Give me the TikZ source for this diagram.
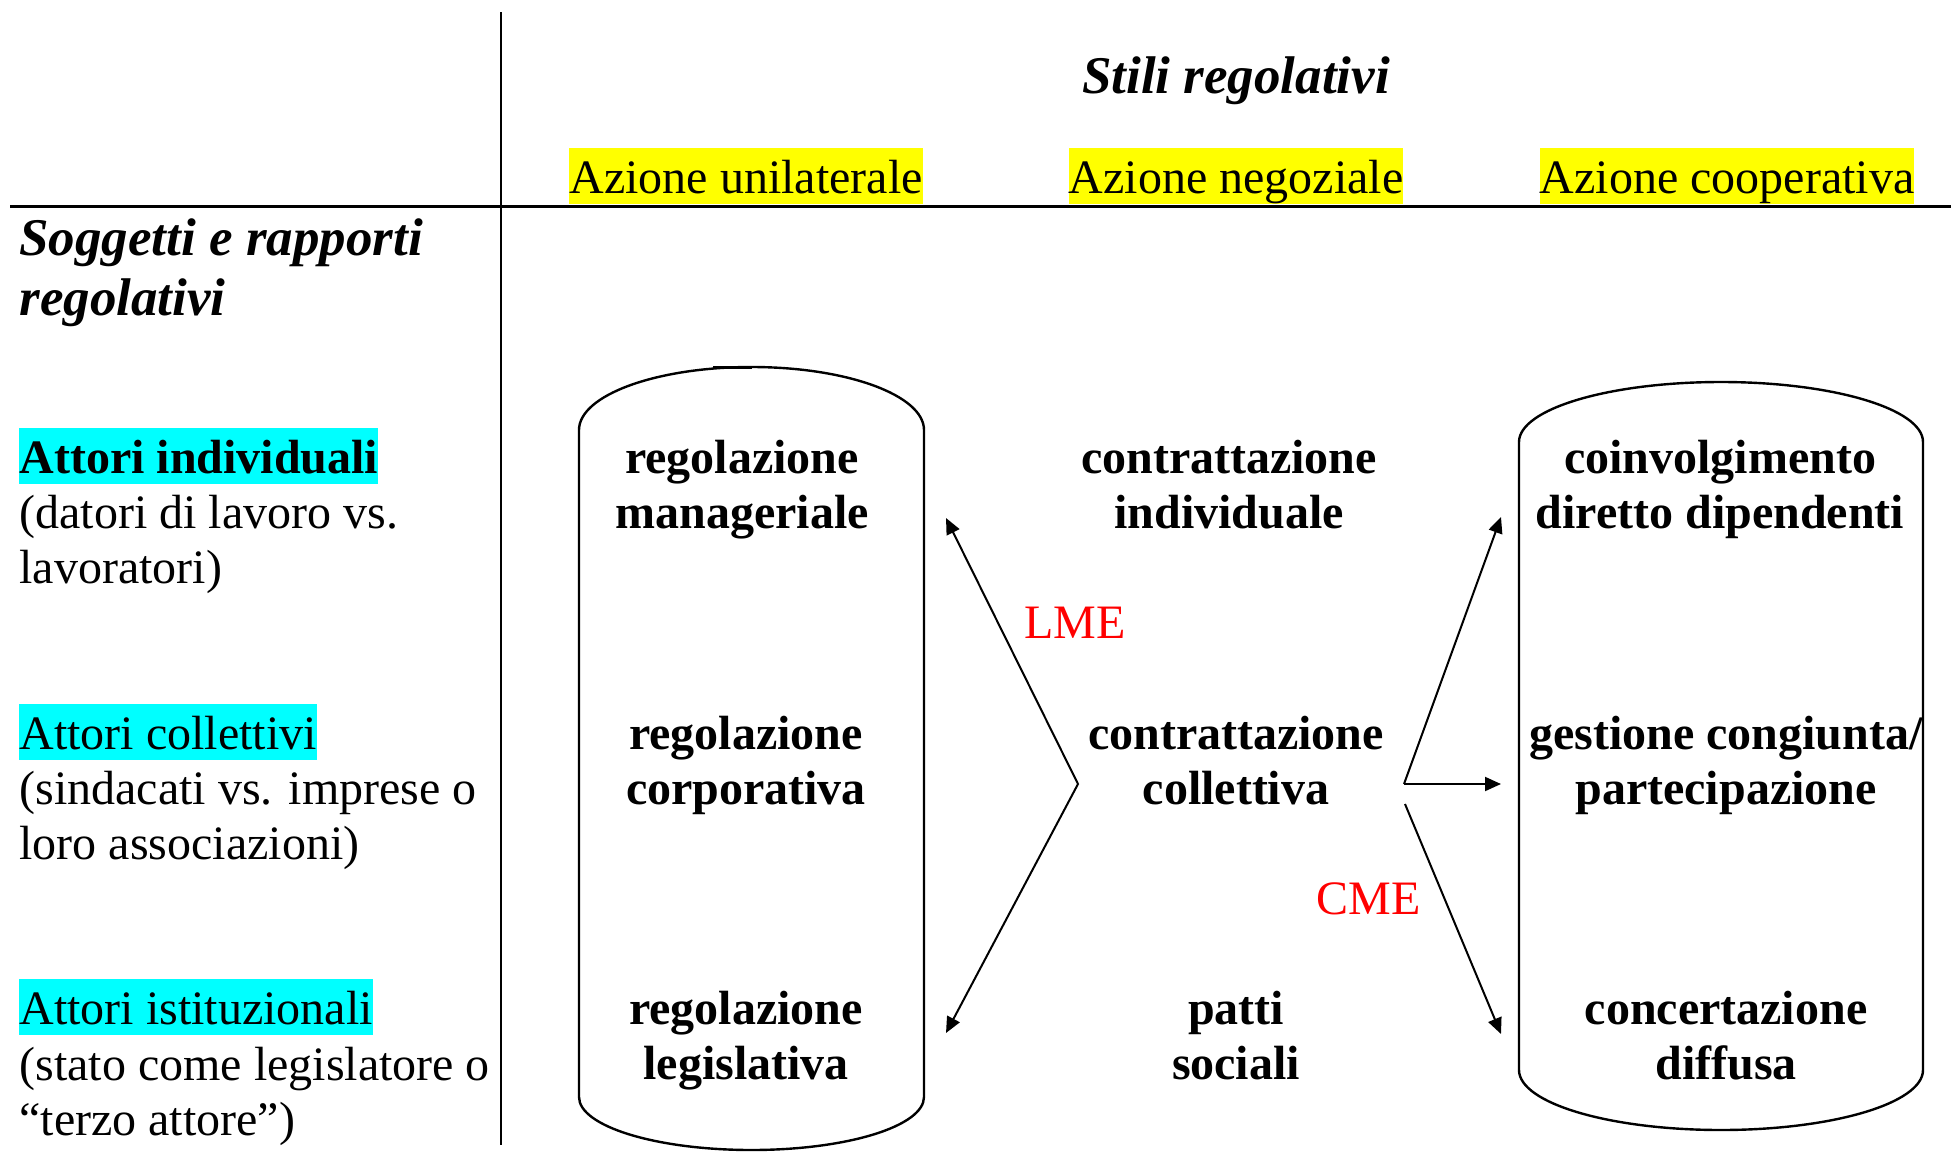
\documentclass[tikz,border=0pt]{standalone}
\usepackage{fontspec}
\setmainfont{Liberation Serif}
\usetikzlibrary{arrows.meta}
\definecolor{hlyellow}{HTML}{FFFF00}
\definecolor{hlcyan}{HTML}{00FFFF}
\definecolor{lblred}{HTML}{FF0000}
\begin{document}
\begin{tikzpicture}[x=0.5pt,y=-0.5pt,
  reg/.style={font=\fontsize{24}{27.5}\selectfont, inner sep=0pt},
  boldtxt/.style={font=\fontsize{24}{27.5}\selectfont\bfseries, inner sep=0pt, anchor=base},
  titletxt/.style={font=\fontsize{26.5}{31}\selectfont\bfseries\itshape, inner sep=0pt},
  hl/.style={inner sep=0pt, text height=22.5pt, text depth=5.5pt},
  ystyle/.style={reg, hl, fill=hlyellow, anchor=base},
  cstyle/.style={reg, hl, fill=hlcyan, anchor=base west},
  note/.style={reg, anchor=base west},
  redlbl/.style={reg, text=lblred, anchor=base west},
  cyl/.style={line width=1.2pt},
  axis/.style={line width=1pt},
  arr/.style={line width=1pt, -{Triangle[length=8pt,width=7pt]}},
  darr/.style={line width=1pt, {Triangle[length=8pt,width=7pt]}-{Triangle[length=8pt,width=7pt]}}
]
\useasboundingbox (0,0) rectangle (1951,1152);

% axes
\draw[axis] (501,12) -- (501,1145);
\draw[line width=1.5pt] (10,206) -- (1951,206);

% titles
\node[titletxt, anchor=base] (stili) at (1236,93) {Stili regolativi};
\node[titletxt, anchor=base west] (sogg1) at (19,255) {Soggetti e rapporti};
\node[titletxt, anchor=base west] (sogg2) at (19,315) {regolativi};

% column headers
\node[ystyle] (hU) at (746,193) {Azione unilaterale};
\node[ystyle] (hN) at (1236,193) {Azione negoziale};
\node[ystyle] (hC) at (1727,193) {Azione cooperativa};

% row headers
\node[cstyle, font=\fontsize{24}{27.5}\selectfont\bfseries] (ai) at (19,473) {Attori individuali};
\node[note] (ai1) at (19,528) {(datori di lavoro vs.};
\node[note] (ai2) at (19,583) {lavoratori)};
\node[cstyle] (ac) at (19,749) {Attori collettivi};
\node[note] (ac1) at (19,804) {(sindacati vs. imprese o};
\node[note] (ac2) at (19,859) {loro associazioni)};
\node[cstyle] (ain) at (19,1024) {Attori istituzionali};
\node[note] (ain1) at (19,1080) {(stato come legislatore o};
\node[note] (ain2) at (19,1135) {“terzo attore”)};

% left cylinder
\draw[cyl] (579,1097) -- (579,430)
  arc[start angle=180, end angle=0, x radius=86.25pt, y radius=31.5pt]
  -- (924,1097)
  arc[start angle=0, end angle=-180, x radius=86.25pt, y radius=26.5pt] -- cycle;
\draw[line width=1.5pt] (713,367.5) -- (752,367.5);

% right cylinder
\draw[cyl] (1519,1070) -- (1519,442)
  arc[start angle=180, end angle=0, x radius=101pt, y radius=30pt]
  -- (1923,1070)
  arc[start angle=0, end angle=-180, x radius=101pt, y radius=30pt] -- cycle;

% cells: unilateral
\node[boldtxt] (m1) at (742,473) {regolazione};
\node[boldtxt] (m2) at (742,528) {manageriale};
\node[boldtxt] (c1) at (746,749) {regolazione};
\node[boldtxt] (c2) at (746,804) {corporativa};
\node[boldtxt] (l1) at (746,1024) {regolazione};
\node[boldtxt] (l2) at (746,1079) {legislativa};

% cells: negotiation
\node[boldtxt] (ci1) at (1229,473) {contrattazione};
\node[boldtxt] (ci2) at (1229,528) {individuale};
\node[boldtxt] (cc1) at (1236,749) {contrattazione};
\node[boldtxt] (cc2) at (1236,804) {collettiva};
\node[boldtxt] (ps1) at (1236,1024) {patti};
\node[boldtxt] (ps2) at (1236,1079) {sociali};

% cells: cooperative
\node[boldtxt] (cd1) at (1720,473) {coinvolgimento};
\node[boldtxt] (cd2) at (1720,528) {diretto dipendenti};
\node[boldtxt] (gc1) at (1726,749) {gestione congiunta/};
\node[boldtxt] (gc2) at (1726,804) {partecipazione};
\node[boldtxt] (cf1) at (1726,1024) {concertazione};
\node[boldtxt] (cf2) at (1726,1079) {diffusa};

% red labels
\node[redlbl] (lme) at (1024,638) {LME};
\node[redlbl] (cme) at (1316,914) {CME};

% connector coordinates
\coordinate (lmeTop) at (946,518);
\coordinate (lmeV) at (1078,784);
\coordinate (lmeBot) at (946,1033);
\coordinate (cmeO) at (1404,784);
\coordinate (cmeUp) at (1501,517);
\coordinate (cmeMid) at (1501,784);
\coordinate (cmeS) at (1405,804);
\coordinate (cmeBot) at (1501,1034);

% connectors
\draw[darr] (lmeTop) -- (lmeV) -- (lmeBot);
\draw[arr] (cmeO) -- (cmeUp);
\draw[arr] (cmeO) -- (cmeMid);
\draw[arr] (cmeS) -- (cmeBot);
\end{tikzpicture}
\end{document}
